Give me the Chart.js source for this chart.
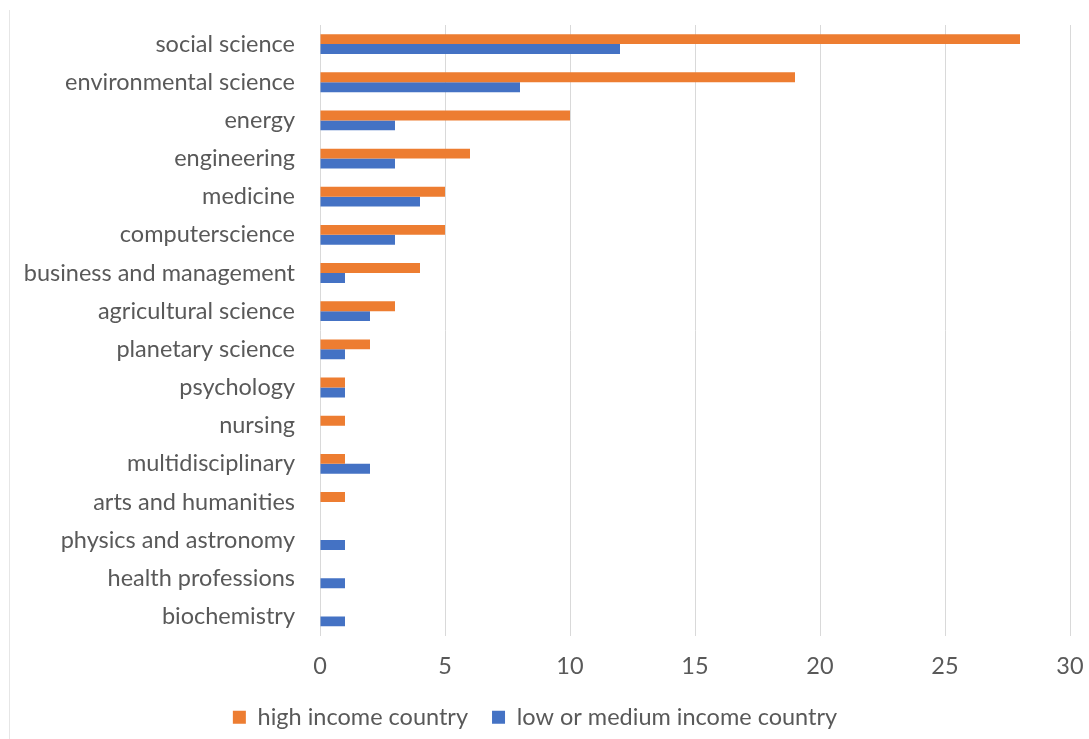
<!DOCTYPE html>
<html>
<head>
<meta charset="utf-8">
<script src="https://cdn.jsdelivr.net/npm/chart.js@4.4.0/dist/chart.umd.min.js"></script>
<style>
  html, body { margin: 0; padding: 0; background: #fff; }
  #wrap { position: relative; width: 1089px; height: 739px; }
  #frame { position: absolute; left: 9px; top: 10px; width: 1px; height: 729px; background: #e6e6e6; }
</style>
</head>
<body>
<div id="wrap">
  <div id="frame"></div>
  <canvas id="subjectChart" width="1089" height="739"></canvas>
</div>
<script>
  // Subjects, top to bottom
  const subjects = [
    "social science", "environmental science", "energy", "engineering", "medicine",
    "computerscience", "business and management", "agricultural science", "planetary science",
    "psychology", "nursing", "multidisciplinary", "arts and humanities",
    "physics and astronomy", "health professions", "biochemistry"
  ];

  // Counts per subject
  const highIncome = [28, 19, 10, 6, 5, 5, 4, 3, 2, 1, 1, 1, 1, 0, 0, 0];
  const lowMediumIncome = [12, 8, 3, 3, 4, 3, 1, 2, 1, 1, 0, 2, 0, 1, 1, 1];

  const xTicks = [0, 5, 10, 15, 20, 25, 30];

  const textColor = "#595959";
  const fontFamily = "Lato, 'Open Sans', sans-serif";
  const fontSize = 23.5;

  const subjectChart = new Chart(document.getElementById("subjectChart"), {
    type: "bar",
    data: {
      labels: subjects,
      datasets: [
        {
          label: "high income country",
          data: highIncome,
          backgroundColor: "#ED7D31",
          categoryPercentage: 0.52,
          barPercentage: 1.0,
        },
        {
          label: "low or medium income country",
          data: lowMediumIncome,
          backgroundColor: "#4472C4",
          categoryPercentage: 0.52,
          barPercentage: 1.0,
        },
      ],
    },
    options: {
      indexAxis: "y",
      responsive: false,
      animation: false,
      layout: {
        padding: { left: 0, right: 19, top: 25, bottom: 0 },
      },
      scales: {
        x: {
          min: 0,
          max: 30,
          afterBuildTicks: axis => { axis.ticks = xTicks.map(v => ({ value: v })); },
          afterFit: axis => {
            axis.height = 46;
            axis.paddingLeft = 0;
            axis.paddingRight = 0;
          },
          grid: { color: "#d9d9d9", drawTicks: false },
          border: { display: false },
          ticks: {
            color: textColor,
            padding: 17,
            font: { family: fontFamily, size: fontSize },
          },
        },
        y: {
          afterFit: axis => {
            axis.width = 320;
            axis.paddingTop = 0;
            axis.paddingBottom = 0;
          },
          grid: { display: false },
          border: { display: false },
          ticks: {
            color: textColor,
            padding: 17,
            font: { family: fontFamily, size: fontSize },
          },
        },
      },
      plugins: {
        legend: {
          position: "bottom",
          labels: {
            color: textColor,
            boxWidth: 13,
            boxHeight: 13,
            padding: 24,
            font: { family: fontFamily, size: fontSize },
          },
        },
        tooltip: { enabled: false },
      },
    },
  });
</script>
</body>
</html>
